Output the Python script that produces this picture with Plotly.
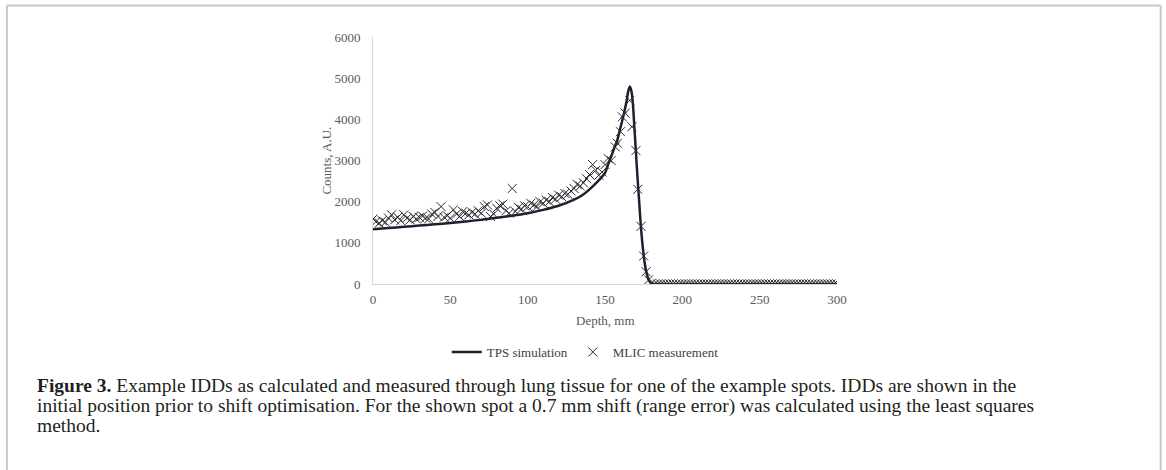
import plotly.graph_objects as go

# ---- data ----
tps_depth = [0, 10, 20, 30, 40, 50, 60, 70, 80, 90, 100, 110, 120, 130, 135, 140, 145,
             150, 152, 154, 156, 158, 160, 162, 164, 165, 166, 167, 168, 169, 170, 171,
             172, 173, 174, 175, 176, 177, 178, 179, 180, 181, 185, 200, 250, 300]
tps_counts = [1330, 1360, 1390, 1420, 1450, 1480, 1520, 1560, 1610, 1660, 1720, 1800,
              1900, 2050, 2150, 2300, 2480, 2700, 2900, 3100, 3300, 3500, 3800, 4100,
              4450, 4680, 4800, 4700, 4400, 3800, 3200, 2600, 2050, 1500, 1050, 700,
              430, 250, 130, 50, 15, 0, 0, 0, 0, 0]

mlic_depth = [0, 2, 4, 6, 8, 10, 12, 14, 16, 18, 20, 22, 24, 26, 28, 30, 32, 34, 36, 38,
              40, 42, 44, 46, 48, 50, 52, 54, 56, 58, 60, 62, 64, 66, 68, 70, 72, 74, 76,
              78, 80, 82, 84, 86, 88, 90, 92, 94, 96, 98, 100, 102, 104, 106, 108, 110,
              112, 114, 116, 118, 120, 122, 124, 126, 128, 130, 132, 134, 136, 138, 140,
              142, 144, 146, 148, 150, 152, 154, 156.6, 158, 160, 161.2, 163, 166, 167.4,
              170, 171.2, 173.3, 175, 176.6, 178.2, 180,
              182, 184, 186, 188, 190, 192, 194, 196, 198, 200, 202, 204, 206, 208, 210,
              212, 214, 216, 218, 220, 222, 224, 226, 228, 230, 232, 234, 236, 238, 240,
              242, 244, 246, 248, 250, 252, 254, 256, 258, 260, 262, 264, 266, 268, 270,
              272, 274, 276, 278, 280, 282, 284, 286, 288, 290, 292, 294, 296, 298, 300]
mlic_counts = [1580, 1520, 1480, 1540, 1500, 1600, 1680, 1560, 1620, 1540, 1680, 1600,
               1560, 1640, 1580, 1620, 1650, 1600, 1580, 1700, 1740, 1640, 1880, 1620,
               1660, 1600, 1800, 1700, 1640, 1760, 1720, 1680, 1740, 1700, 1780, 1720,
               1880, 1920, 1640, 1700, 1840, 1900, 1940, 1780, 1720, 2320, 1760, 1860,
               1820, 1900, 1880, 1960, 1920, 1880, 2000, 1960, 2040, 2000, 2100, 2060,
               2160, 2120, 2200, 2180, 2260, 2320, 2420, 2380, 2460, 2560, 2660, 2900,
               2760, 2640, 2720, 2900, 3050, 3000, 3330, 3420, 3700, 4060, 4150, 4460,
               3820, 3240, 2300, 1400, 680, 300, 100, 20,
               0, 0, 0, 0, 0, 0, 0, 0, 0, 0, 0, 0, 0, 0, 0, 0, 0, 0, 0, 0, 0, 0, 0, 0,
               0, 0, 0, 0, 0, 0, 0, 0, 0, 0, 0, 0, 0, 0, 0, 0, 0, 0, 0, 0, 0, 0, 0, 0,
               0, 0, 0, 0, 0, 0, 0, 0, 0, 0, 0, 0, 0, 0, 0]

x_ticks = [0, 50, 100, 150, 200, 250, 300]
y_ticks = [0, 1000, 2000, 3000, 4000, 5000, 6000]

caption_lines = [
    "<b>Figure 3.</b> Example IDDs as calculated and measured through lung tissue for one of the example spots. IDDs are shown in the",
    "initial position prior to shift optimisation. For the shown spot a 0.7 mm shift (range error) was calculated using the least squares",
    "method.",
]

# ---- layout geometry (pixels) ----
W, H = 1166, 470
PL, PR, PT, PB = 372.5, 837, 37, 284  # plot area


def px(xp):
    return (xp - PL) / (PR - PL)


def py(yp):
    return (PB - yp) / (PB - PT)


SERIF = "Liberation Serif, Times New Roman, serif"
TICK_COLOR = "#595959"

fig = go.Figure()
fig.add_trace(go.Scatter(
    x=tps_depth, y=tps_counts, mode="lines", name="TPS simulation",
    line=dict(color="#1b2130", width=2.5, shape="spline", smoothing=0.6),
))
fig.add_trace(go.Scatter(
    x=mlic_depth, y=mlic_counts, mode="markers", name="MLIC measurement",
    marker=dict(symbol="x-thin", size=9, line=dict(width=1.0, color="#2a2a2a"),
                color="#2a2a2a"),
))

fig.update_layout(
    width=W, height=H, autosize=False,
    margin=dict(l=PL, r=W - PR, t=PT, b=H - PB, pad=0),
    paper_bgcolor="white", plot_bgcolor="white",
    font=dict(family=SERIF, size=13, color=TICK_COLOR),
    showlegend=True,
    legend=dict(orientation="h", x=px(585), xanchor="center", y=py(352),
                yanchor="middle", font=dict(family=SERIF, size=13, color="#404040"),
                itemwidth=30, tracegroupgap=0, bgcolor="rgba(0,0,0,0)"),
    xaxis=dict(range=[0, 300], tickvals=x_ticks, ticktext=[str(v) for v in x_ticks],
               showgrid=False, zeroline=False, showline=True, linecolor="#d9d9d9",
               linewidth=1, ticks="", ticklabelstandoff=3,
               tickfont=dict(family=SERIF, size=13, color=TICK_COLOR)),
    yaxis=dict(range=[0, 6000], tickvals=y_ticks, ticktext=[str(v) for v in y_ticks],
               showgrid=False, zeroline=False, showline=True, linecolor="#d9d9d9",
               linewidth=1, ticks="", ticklabelstandoff=9,
               tickfont=dict(family=SERIF, size=13, color=TICK_COLOR)),
)

# axis titles
fig.add_annotation(text="Depth, mm", xref="paper", yref="paper", x=px(605), y=py(320),
                   showarrow=False, xanchor="center", yanchor="middle",
                   font=dict(family=SERIF, size=13, color=TICK_COLOR))
fig.add_annotation(text="Counts, A.U.", xref="paper", yref="paper", x=px(325), y=py(161),
                   showarrow=False, xanchor="center", yanchor="middle", textangle=-90,
                   font=dict(family=SERIF, size=13, color=TICK_COLOR))

# caption
for line, yp in zip(caption_lines, [385, 406, 426]):
    fig.add_annotation(text=line, xref="paper", yref="paper", x=px(34), y=py(yp),
                       showarrow=False, xanchor="left", yanchor="middle", align="left",
                       font=dict(family=SERIF, size=19.5, color="#231f20"))

# frame (top, left, right)
frame = dict(color="#c8c8c8", width=2)
fig.add_shape(type="line", xref="paper", yref="paper", x0=px(6), x1=px(1161),
              y0=py(5.5), y1=py(5.5), line=frame)
fig.add_shape(type="line", xref="paper", yref="paper", x0=px(6), x1=px(6),
              y0=py(5.5), y1=py(470), line=frame)
fig.add_shape(type="line", xref="paper", yref="paper", x0=px(1161), x1=px(1161),
              y0=py(5.5), y1=py(470), line=frame)

fig.write_html("out.html", config={"displayModeBar": False},
               post_script="document.body.style.margin='0px';")
